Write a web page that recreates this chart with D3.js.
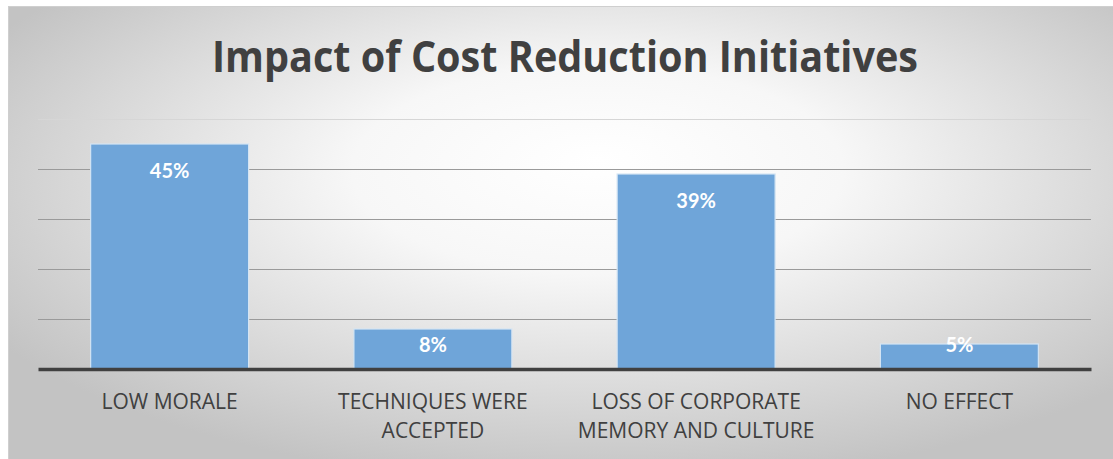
<!DOCTYPE html>
<html>
<head>
<meta charset="utf-8">
<script src="https://cdn.jsdelivr.net/npm/d3@7/dist/d3.min.js"></script>
<style>
  html, body { margin: 0; padding: 0; background: #ffffff; }
  svg { display: block; }
</style>
</head>
<body>
<svg id="chart" width="1113" height="459"></svg>
<script>
// Chart data
const categories = [
  ["LOW MORALE"],
  ["TECHNIQUES WERE", "ACCEPTED"],
  ["LOSS OF CORPORATE", "MEMORY AND CULTURE"],
  ["NO EFFECT"]
];
const values = [45, 8, 39, 5];
const gridTicks = [0, 10, 20, 30, 40, 50];
const titleText = "Impact of Cost Reduction Initiatives";

const W = 1113, H = 459;
const plot = { left: 38, right: 1091, top: 119, bottom: 369 };
const svg = d3.select("#chart");

// Background panel with soft radial shading
const defs = svg.append("defs");
const grad = defs.append("radialGradient")
  .attr("id", "bg")
  .attr("cx", 0.52).attr("cy", 0.38).attr("r", 0.62)
  .attr("fx", 0.52).attr("fy", 0.32);
grad.append("stop").attr("offset", "0%").attr("stop-color", "#ffffff");
grad.append("stop").attr("offset", "35%").attr("stop-color", "#f7f7f7");
grad.append("stop").attr("offset", "100%").attr("stop-color", "#c3c3c3");

svg.append("rect")
  .attr("x", 8.5).attr("y", 6.5)
  .attr("width", W + 20).attr("height", H + 20)
  .attr("fill", "url(#bg)")
  .attr("stroke", "#cfcfcf").attr("stroke-width", 1);

const x = d3.scaleBand()
  .domain(d3.range(categories.length))
  .range([plot.left, plot.right])
  .paddingInner(0.4).paddingOuter(0.2);

const y = d3.scaleLinear()
  .domain([0, 50])
  .range([plot.bottom, plot.top]);

// Horizontal gridlines
const yAxis = d3.axisLeft(y)
  .tickValues(gridTicks.filter(t => t > 0))
  .tickSize(-(plot.right - plot.left))
  .tickFormat("");
const gy = svg.append("g")
  .attr("transform", `translate(${plot.left},0)`)
  .call(yAxis);
gy.select(".domain").remove();
gy.selectAll(".tick line")
  .attr("stroke", d => d === 50 ? "#d6d6d6" : "#9a9a9a")
  .attr("stroke-width", 1.2)
  .attr("shape-rendering", "crispEdges");

// Bars
svg.append("g").selectAll("rect")
  .data(values)
  .join("rect")
  .attr("x", (d, i) => x(i))
  .attr("y", d => y(d))
  .attr("width", x.bandwidth())
  .attr("height", d => y(0) - y(d))
  .attr("fill", "#6fa5d9")
  .attr("stroke", "#d4e4f3")
  .attr("stroke-width", 1.2);

// Value labels inside the bar tops
svg.append("g").selectAll("text")
  .data(values)
  .join("text")
  .attr("x", (d, i) => x(i) + x.bandwidth() / 2)
  .attr("y", d => Math.min(y(d) + 27, y(0) - 24) + 7)
  .attr("text-anchor", "middle")
  .attr("font-family", "Lato, 'Open Sans', sans-serif")
  .attr("font-weight", "bold")
  .attr("font-size", 20)
  .attr("fill", "#ffffff")
  .text(d => d + "%");

// Category axis baseline
const xAxis = d3.axisBottom(x).tickSize(0).tickFormat("");
const gx = svg.append("g")
  .attr("transform", `translate(0,${y(0)})`)
  .call(xAxis);
gx.select(".domain")
  .attr("stroke", "#404040")
  .attr("stroke-width", 3.5);

// Category labels (wrapped lines)
const catG = svg.append("g");
categories.forEach((lines, i) => {
  const t = catG.append("text")
    .attr("text-anchor", "middle")
    .attr("font-family", "'Open Sans', sans-serif")
    .attr("font-size", 21)
    .attr("fill", "#404040");
  lines.forEach((ln, j) => {
    t.append("tspan")
      .attr("x", x(i) + x.bandwidth() / 2)
      .attr("y", 409 + j * 29)
      .text(ln);
  });
});

// Title
svg.append("text")
  .attr("x", 565)
  .attr("y", 72)
  .attr("text-anchor", "middle")
  .attr("font-family", "'Open Sans', sans-serif")
  .attr("font-weight", "bold")
  .attr("font-size", 43)
  .attr("fill", "#404040")
  .attr("textLength", 706)
  .attr("lengthAdjust", "spacingAndGlyphs")
  .text(titleText);
</script>
</body>
</html>
